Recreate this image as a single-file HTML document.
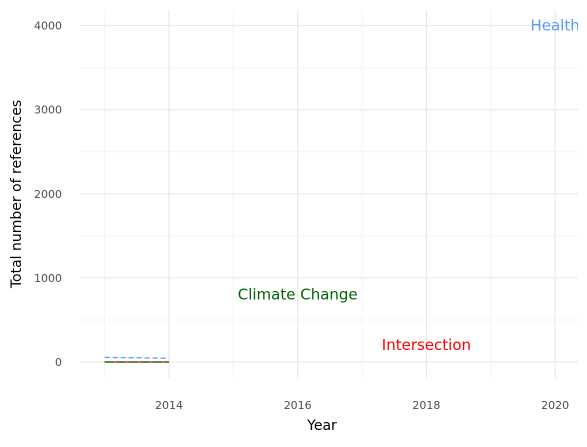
<!DOCTYPE html>
<html><head><meta charset="utf-8"><style>
body{margin:0;background:#fff;font-family:"DejaVu Sans","Liberation Sans",sans-serif}
</style></head><body>
<svg id="chart" width="587" height="443" xmlns="http://www.w3.org/2000/svg" font-family="DejaVu Sans, sans-serif">
<defs><clipPath id="pc"><rect x="0" y="0" width="578" height="443"/></clipPath></defs>
</svg>
<script>
const years = [2013, 2014];
const healthVals = [55, 45];
const climateVals = [0, 0];
const interVals = [0, 0];
const xTicks = [2014, 2016, 2018, 2020];
const yTicks = [0, 1000, 2000, 3000, 4000];
const labels = [
  {text:"Health", x:2020, y:4000, color:"#5b9bf5"},
  {text:"Climate Change", x:2016, y:800, color:"#006400"},
  {text:"Intersection", x:2018, y:200, color:"#ff0000"}
];
const svg = document.getElementById('chart');
const NS = "http://www.w3.org/2000/svg";
const L=80,R=578,T=10,B=378;
const xs = v => 169 + (v-2014)*64.35;
const ys = v => 362 - v*0.0841;
function mk(tag, attrs, parent){const e=document.createElementNS(NS,tag);for(const k in attrs)e.setAttribute(k,attrs[k]);(parent||svg).appendChild(e);return e;}
for(let y=2013;y<=2020;y+=2){const g=mk('line',{x1:xs(y),x2:xs(y),y1:T,y2:B,stroke:'#f5f5f5','stroke-width':1});

}
for(let v=-500;v<=4000;v+=1000){if(ys(v)>B||ys(v)<T)continue;const g=mk('line',{x1:L,x2:R,y1:ys(v),y2:ys(v),stroke:'#f5f5f5','stroke-width':1});

}
xTicks.forEach(t=>{const g=mk('line',{x1:xs(t),x2:xs(t),y1:T,y2:B,stroke:'#e6e6e6','stroke-width':1});


const tx=mk('text',{x:xs(t),y:409,'text-anchor':'middle','font-size':11,fill:'#4d4d4d'});tx.textContent=t;

});
yTicks.forEach(t=>{const g=mk('line',{x1:L,x2:R,y1:ys(t),y2:ys(t),stroke:'#e6e6e6','stroke-width':1});


const tx=mk('text',{x:62,y:ys(t)+4,'text-anchor':'end','font-size':11,fill:'#4d4d4d'});tx.textContent=t;

});
function line(vals,color,dash,name){const pts=years.map((y,i)=>xs(y)+','+ys(vals[i])).join(' ');
const p=mk('polyline',{points:pts,fill:'none',stroke:color,'stroke-width':1.3,'stroke-dasharray':dash||'none'});

}
line(healthVals,'#5b9bf5','5,3','health-line');
line(interVals,'#ff0000','','intersection-line');
line(climateVals,'#006400','9,3','climate-change-line');
labels.forEach(l=>{const t=mk('text',{x:xs(l.x),y:ys(l.y)+5,'text-anchor':'middle','font-size':15,fill:l.color,'clip-path':'url(#pc)'});t.textContent=l.text;

});
const xt=mk('text',{x:322,y:430,'text-anchor':'middle','font-size':14,fill:'#000'});xt.textContent='Year';


const yt=mk('text',{x:0,y:0,'text-anchor':'middle','font-size':14,fill:'#000',transform:'translate(21,194) rotate(-90)'});yt.textContent='Total number of references';


</script>
</body></html>
